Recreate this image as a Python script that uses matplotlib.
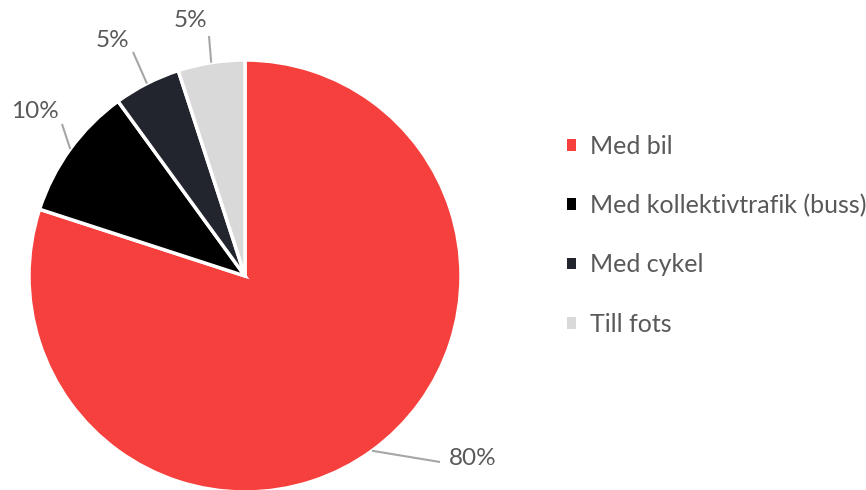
import numpy as np
import matplotlib.pyplot as plt
from matplotlib.patches import Patch

labels = ['Med bil', 'Med kollektivtrafik (buss)', 'Med cykel', 'Till fots']
shares = [80, 10, 5, 5]
pct_text = ['80%', '10%', '5%', '5%']
colors = ['#F5403D', '#000000', '#22252E', '#D9D9D9']

plt.rcParams['font.family'] = ['Lato', 'DejaVu Sans']
text_col = '#595959'

fig = plt.figure(figsize=(8.66, 4.9), dpi=100)
ax = fig.add_axes([0, 0, 1, 1])

# work in pixel-like units, y pointing up
cx, cy, r = 245, 490 - 276, 216
wedges, _ = ax.pie(shares, colors=colors, startangle=90, counterclock=False,
                   center=(cx, cy), radius=r,
                   wedgeprops=dict(edgecolor='white', linewidth=2.5))
ax.set_xlim(0, 866)
ax.set_ylim(0, 490)
ax.set_aspect('equal')
ax.axis('off')

# label positions (pixels from top-left) and leader line end points
label_xy = [(473, 458), (35, 112), (112, 41), (190, 21)]
line_end = [(440, 462), (62, 124), (133, 52), (209, 36)]
for w, txt, (lx, ly), (ex, ey) in zip(wedges, pct_text, label_xy, line_end):
    ang = np.deg2rad((w.theta1 + w.theta2) / 2)
    sx = cx + r * np.cos(ang)
    sy = cy + r * np.sin(ang)
    ax.plot([sx, ex], [sy, 490 - ey], color='#A6A6A6', lw=1.5,
            solid_capstyle='butt')
    ax.text(lx, 490 - ly, txt, ha='center', va='center', fontsize=17.5,
            color=text_col)

handles = [Patch(facecolor=c, edgecolor='none') for c in colors]
leg = ax.legend(handles, labels, loc='center left',
                bbox_to_anchor=(0.629, 0.52), frameon=False,
                fontsize=18, handlelength=0.35, handleheight=0.35,
                handletextpad=0.55, labelspacing=1.45)
for t in leg.get_texts():
    t.set_color(text_col)

plt.savefig('out.png', dpi=100)
